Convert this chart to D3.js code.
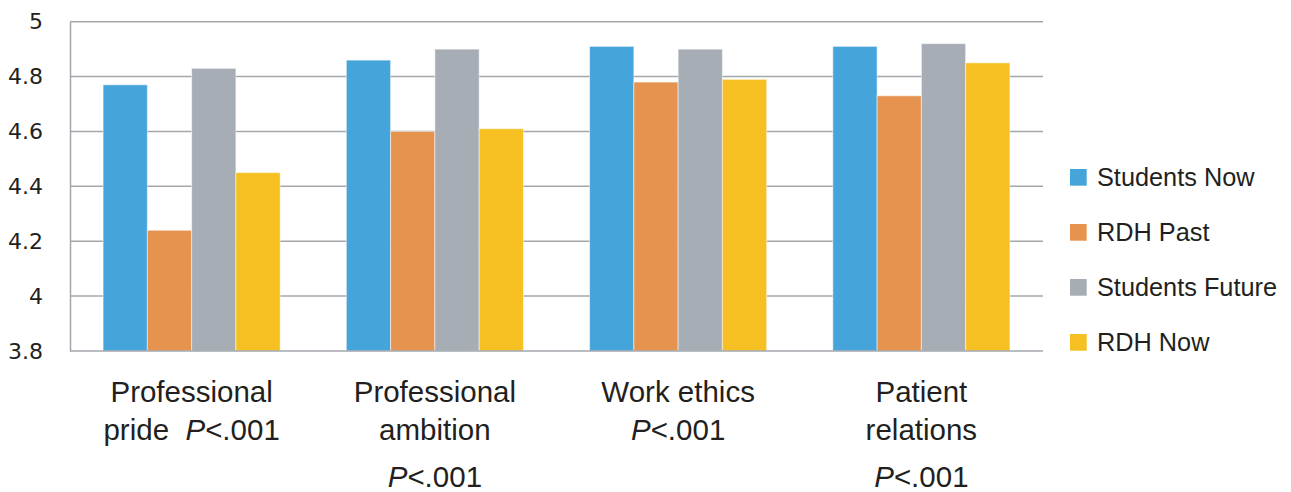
<!DOCTYPE html>
<html>
<head>
<meta charset="utf-8">
<script src="https://cdn.jsdelivr.net/npm/d3@7"></script>
<style>
  body { margin: 0; background: #fff; }
</style>
</head>
<body>
<div id="mychart"></div>
<script>
// data
var categories = ["Professional pride", "Professional ambition", "Work ethics", "Patient relations"];
var seriesNames = ["Students Now", "RDH Past", "Students Future", "RDH Now"];
var studentsNow    = [4.77, 4.86, 4.91, 4.91];
var rdhPast        = [4.24, 4.60, 4.78, 4.73];
var studentsFuture = [4.83, 4.90, 4.90, 4.92];
var rdhNow         = [4.45, 4.61, 4.79, 4.85];
var yTicks = [3.8, 4, 4.2, 4.4, 4.6, 4.8, 5];
// category label lines; "P" gets italic
var labelLines = [
  [["Professional"], ["pride  ", "P", "<.001"]],
  [["Professional"], ["ambition"], ["", "P", "<.001"]],
  [["Work ethics"], ["", "P", "<.001"]],
  [["Patient"], ["relations"], ["", "P", "<.001"]]
];
var colors = ["#45A5DB", "#E69350", "#A7ADB4", "#F6C023"];

var allSeries = [studentsNow, rdhPast, studentsFuture, rdhNow];

var margin = {left: 70, right: 248, top: 21.7, bottom: 141};
var W = 1291, H = 492;
var width = W - margin.left - margin.right,
    height = H - margin.top - margin.bottom;

var svg = d3.select("#mychart")
  .append("svg")
    .attr("width", W)
    .attr("height", H)
  .append("g")
    .attr("transform", "translate(" + margin.left + "," + margin.top + ")");

var y = d3.scaleLinear().domain([3.8, 5]).range([height, 0]);

var x0 = d3.scaleBand()
  .domain(categories)
  .range([0, width])
  .paddingInner(0.272)
  .paddingOuter(0.136);

var x1 = d3.scaleBand()
  .domain(seriesNames)
  .range([0, x0.bandwidth()]);

// gridlines
svg.append("g")
  .selectAll("line")
  .data(yTicks.slice(1))
  .enter()
  .append("line")
    .attr("x1", 0)
    .attr("x2", width)
    .attr("y1", function(d) { return y(d); })
    .attr("y2", function(d) { return y(d); })
    .attr("stroke", "#A3A7AC")
    .attr("stroke-width", 1.5);

// y axis
var yAxis = svg.append("g")
  .call(d3.axisLeft(y).tickValues(yTicks).tickSize(0).tickPadding(27).tickFormat(d3.format("")));
yAxis.select(".domain").attr("stroke", "#A3A7AC").attr("stroke-width", 1.5);
yAxis.selectAll("text")
  .attr("font-family", "DejaVu Sans")
  .attr("font-size", 22)
  .attr("fill", "#231F20");

// bars
var rows = categories.map(function(c, i) {
  return seriesNames.map(function(s, j) { return {cat: c, key: s, value: allSeries[j][i], idx: j}; });
});

svg.append("g")
  .selectAll("g")
  .data(rows)
  .enter()
  .append("g")
    .attr("transform", function(d) { return "translate(" + x0(d[0].cat) + ",0)"; })
  .selectAll("rect")
  .data(function(d) { return d; })
  .enter()
  .append("rect")
    .attr("x", function(d) { return x1(d.key); })
    .attr("width", x1.bandwidth())
    .attr("y", function(d) { return y(d.value); })
    .attr("height", function(d) { return height - y(d.value); })
    .attr("fill", function(d) { return colors[d.idx]; })
    .attr("stroke", "#ffffff")
    .attr("stroke-opacity", 0.5)
    .attr("stroke-width", 1);

// bottom axis line
svg.append("line")
  .attr("x1", 0)
  .attr("x2", width)
  .attr("y1", height)
  .attr("y2", height)
  .attr("stroke", "#A3A7AC")
  .attr("stroke-width", 1.5);

// category labels
var lineY = [401.7, 440, 486.7];
categories.forEach(function(c, i) {
  labelLines[i].forEach(function(parts, k) {
    var t = svg.append("text")
      .attr("x", x0(c) + x0.bandwidth() / 2)
      .attr("y", lineY[k] - margin.top)
      .attr("text-anchor", "middle")
      .attr("font-family", "Liberation Sans, Arial, sans-serif")
      .attr("font-size", 29.5)
      .attr("fill", "#231F20")
      .attr("xml:space", "preserve");
    parts.forEach(function(p, m) {
      if (p === "") return;
      t.append("tspan")
        .attr("font-style", m === 1 ? "italic" : "normal")
        .text(p);
    });
  });
});

// legend
var legend = svg.append("g")
  .attr("transform", "translate(" + (1070 - margin.left) + "," + (169 - margin.top) + ")");

seriesNames.forEach(function(s, j) {
  var g = legend.append("g").attr("transform", "translate(0," + (j * 55) + ")");
  g.append("rect")
    .attr("width", 16.7)
    .attr("height", 16.7)
    .attr("fill", colors[j]);
  g.append("text")
    .attr("x", 27)
    .attr("y", 16.7)
    .attr("font-family", "Liberation Sans, Arial, sans-serif")
    .attr("font-size", 25.3)
    .attr("fill", "#231F20")
    .text(s);
});
</script>
</body>
</html>
